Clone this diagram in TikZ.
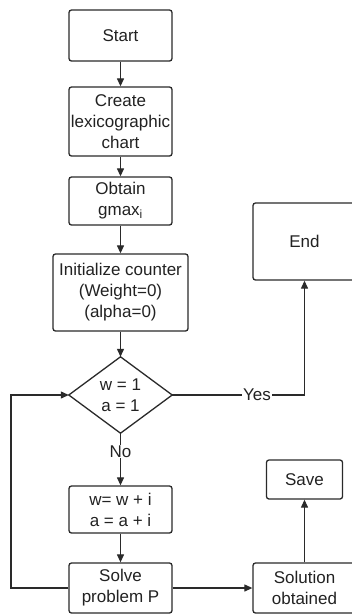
\documentclass[tikz,border=0pt]{standalone}
\usepackage{fontspec}
\setmainfont{Liberation Sans}
\usetikzlibrary{arrows.meta}
\definecolor{linec}{HTML}{2A2A2A}
\definecolor{textc}{HTML}{222222}
\newcommand\fsz{\fontsize{17}{21}\selectfont}
\tikzset{
  box/.style={draw=linec, line width=1.3pt, rounded corners=2.5pt, align=center,
    inner sep=0pt, text=textc, font=\fsz},
  diatext/.style={align=center, inner sep=0pt, text=textc, font=\fsz},
  arr/.style={draw=linec, line width=1.2pt, -{Triangle[length=8pt,width=7pt]}},
  lbl/.style={fill=white, inner sep=1pt, text=textc, font=\fsz},
}
\begin{document}
\begin{tikzpicture}[x=1pt,y=-1pt]
\useasboundingbox (0,0) rectangle (352,614);
\clip (0,0) rectangle (352,614);
\fill[white] (0,0) rectangle (352,614);

\node[box, minimum width=103pt, minimum height=51pt] (start) at (120.5,35.5) {Start};
\node[box, minimum width=103pt, minimum height=69pt] (create) at (120.5,121.5) {Create\\lexicographic\\chart};
\node[box, minimum width=103pt, minimum height=48pt] (obtain) at (120.5,201) {Obtain\\gmax\textsubscript{i}};
\node[box, minimum width=135pt, minimum height=77pt] (init) at (120.5,292.5) {Initialize counter\\(Weight=0)\\(alpha=0)};
\node[diatext, minimum width=103pt, minimum height=76pt] (dia) at (120.5,395) {w = 1\\a = 1};
\node[box, minimum width=103pt, minimum height=47pt] (upd) at (120.5,509.5) {w= w + i\\a = a + i};
\node[box, minimum width=103pt, minimum height=50pt] (solve) at (120.5,588) {Solve\\problem P};
\node[box, minimum width=103pt, minimum height=50pt] (sol) at (304.5,588) {Solution\\obtained};
\node[box, minimum width=76pt, minimum height=39pt] (save) at (304.5,479.5) {Save};
\node[box, minimum width=103pt, minimum height=77pt] (end) at (304.5,241.5) {End};
\coordinate (lp) at (11,588);

\draw[draw=linec, line width=1.3pt] (dia.north) -- (dia.east) -- (dia.south) -- (dia.west) -- cycle;

\draw[arr] (start) -- (create);
\draw[arr] (create) -- (obtain);
\draw[arr] (obtain) -- (init);
\draw[arr] (init) -- (dia.north);
\draw[arr] (dia.south) -- node[lbl, pos=0.35] {No} (upd.north);
\draw[arr] (dia.east) -| node[lbl, pos=0.32] {Yes} (end.south);
\draw[arr] (upd) -- (solve);
\draw[arr] (solve) -- (sol);
\draw[arr] (sol) -- (save);
\draw[arr] (solve.west) -- (lp) |- (dia.west);
\end{tikzpicture}
\end{document}
